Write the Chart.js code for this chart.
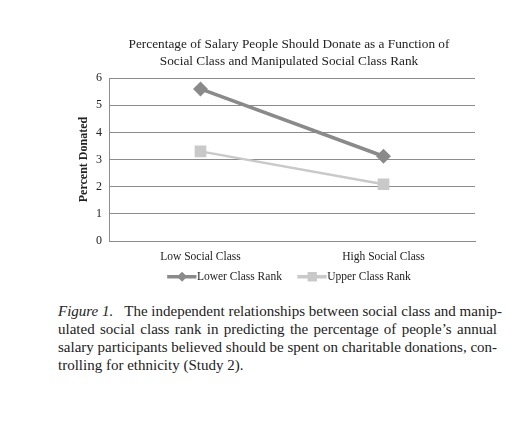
<!DOCTYPE html>
<html>
<head>
<meta charset="utf-8">
<script src="https://cdn.jsdelivr.net/npm/chart.js@4"></script>
<style>
    html, body { margin: 0; padding: 0; background: #fff; }
    body { width: 530px; height: 429px; position: relative; overflow: hidden; }
    #wrap { position: absolute; left: 70px; top: 28px; width: 438px; height: 264px; }
    #caption {
        position: absolute; left: 58px; top: 302px; width: 439px;
        font-family: "Liberation Serif", "Times New Roman", serif;
        font-size: 15px; line-height: 18px; color: #222;
    }
    #caption span { display: block; white-space: nowrap; text-align: justify; text-align-last: justify; }
    #caption span.last { text-align-last: left; }
</style>
</head>
<body>
<div id="wrap"><canvas id="lineChart"></canvas></div>
<div id="caption">
    <span><i>Figure 1.</i>&nbsp;&nbsp; The independent relationships between social class and manip-</span>
    <span>ulated social class rank in predicting the percentage of people’s annual</span>
    <span>salary participants believed should be spent on charitable donations, con-</span>
    <span class="last">trolling for ethnicity (Study 2).</span>
</div>
<script>
document.addEventListener("DOMContentLoaded", function () {
    const ctx = document.getElementById("lineChart").getContext("2d");

    // Data
    const categories = ["Low Social Class", "High Social Class"];
    const lowerRank = [5.6, 3.12];
    const upperRank = [3.3, 2.09];
    const yTicks = [0, 1, 2, 3, 4, 5, 6];

    const serif = "'Liberation Serif', 'Times New Roman', serif";

    // legend: stretch the line up to the text and put the marker on it
    const legendMarkers = {
        id: "legendMarkers",
        afterDraw(chart) {
            const legend = chart.legend;
            if (!legend || !legend.legendHitBoxes) return;
            const c = chart.ctx;
            const labels = legend.options.labels;
            const boxW = labels.boxWidth;
            const gap = labels.font.size / 2;
            legend.legendHitBoxes.forEach(function (box, i) {
                const ds = chart.data.datasets[i];
                const cy = box.top + box.height / 2;
                c.save();
                c.fillStyle = ds.borderColor;
                c.fillRect(box.left + boxW - 0.5, cy - labels.boxHeight / 2, gap, labels.boxHeight);
                c.fillStyle = ds.pointBackgroundColor;
                c.strokeStyle = ds.pointBackgroundColor;
                c.lineWidth = 1;
                Chart.helpers.drawPoint(c, {
                    pointStyle: ds.pointStyle,
                    radius: ds.pointRadius - 0.5,
                    rotation: 0,
                    borderWidth: 1
                }, box.left + (boxW + gap) / 2, cy);
                c.restore();
            });
        }
    };

    new Chart(ctx, {
        type: "line",
        data: {
            labels: categories,
            datasets: [{
                label: "Lower Class Rank",
                data: lowerRank,
                borderColor: "#8a8a8a",
                backgroundColor: "#8a8a8a",
                pointBackgroundColor: "#8a8a8a",
                pointBorderColor: "#8a8a8a",
                pointStyle: "rectRot",
                pointRadius: 5,
                borderWidth: 3.5,
                tension: 0
            }, {
                label: "Upper Class Rank",
                data: upperRank,
                borderColor: "#c9c9c9",
                backgroundColor: "#c9c9c9",
                pointBackgroundColor: "#c9c9c9",
                pointBorderColor: "#c9c9c9",
                pointStyle: "rect",
                pointRadius: 6.5,
                borderWidth: 2.5,
                tension: 0
            }]
        },
        options: {
            responsive: true,
            maintainAspectRatio: false,
            animation: false,
            layout: { padding: { left: 7, right: 7, top: 8, bottom: 0 } },
            plugins: {
                title: {
                    display: true,
                    text: ["Percentage of Salary People Should Donate as a Function of",
                           "Social Class and Manipulated Social Class Rank"],
                    color: "#222",
                    font: { family: serif, size: 13.3, weight: "normal", lineHeight: 1.28 },
                    padding: { top: 0, bottom: 8 }
                },
                legend: {
                    position: "bottom",
                    maxHeight: 25,
                    labels: {
                        color: "#222",
                        font: { family: serif, size: 11.5 },
                        boxWidth: 24,
                        boxHeight: 3.5,
                        padding: 4,
                        generateLabels: function (chart) {
                            const items = Chart.defaults.plugins.legend.labels.generateLabels(chart);
                            items.forEach(function (it, i) {
                                it.lineWidth = 0;
                                if (i < items.length - 1) it.text = it.text + "    ";
                            });
                            return items;
                        }
                    }
                },
                tooltip: { enabled: false }
            },
            scales: {
                x: {
                    offset: true,
                    afterFit: function (scale) { scale.height = 26; },
                    grid: { display: false, drawTicks: false },
                    border: { color: "#8c8c8c" },
                    ticks: { color: "#222", font: { family: serif, size: 11.5 }, padding: 9 }
                },
                y: {
                    min: 0,
                    max: 6,
                    afterBuildTicks: function (scale) {
                        scale.ticks = yTicks.map(function (v) { return { value: v }; });
                    },
                    afterFit: function (scale) { scale.width = 32; },
                    grid: { color: "#8c8c8c", drawTicks: false },
                    border: { color: "#8c8c8c" },
                    ticks: { color: "#222", font: { family: serif, size: 12 }, padding: 7 },
                    title: {
                        display: true,
                        text: "Percent Donated",
                        color: "#222",
                        font: { family: serif, size: 12, weight: "bold" },
                        padding: { top: 0, bottom: 0 }
                    }
                },
                y2: {
                    position: "right",
                    min: 0,
                    max: 6,
                    afterFit: function (scale) { scale.width = 26; },
                    grid: { display: false, drawTicks: false },
                    border: { display: false },
                    ticks: { display: false }
                }
            }
        },
        plugins: [legendMarkers]
    });
});
</script>
</body>
</html>
